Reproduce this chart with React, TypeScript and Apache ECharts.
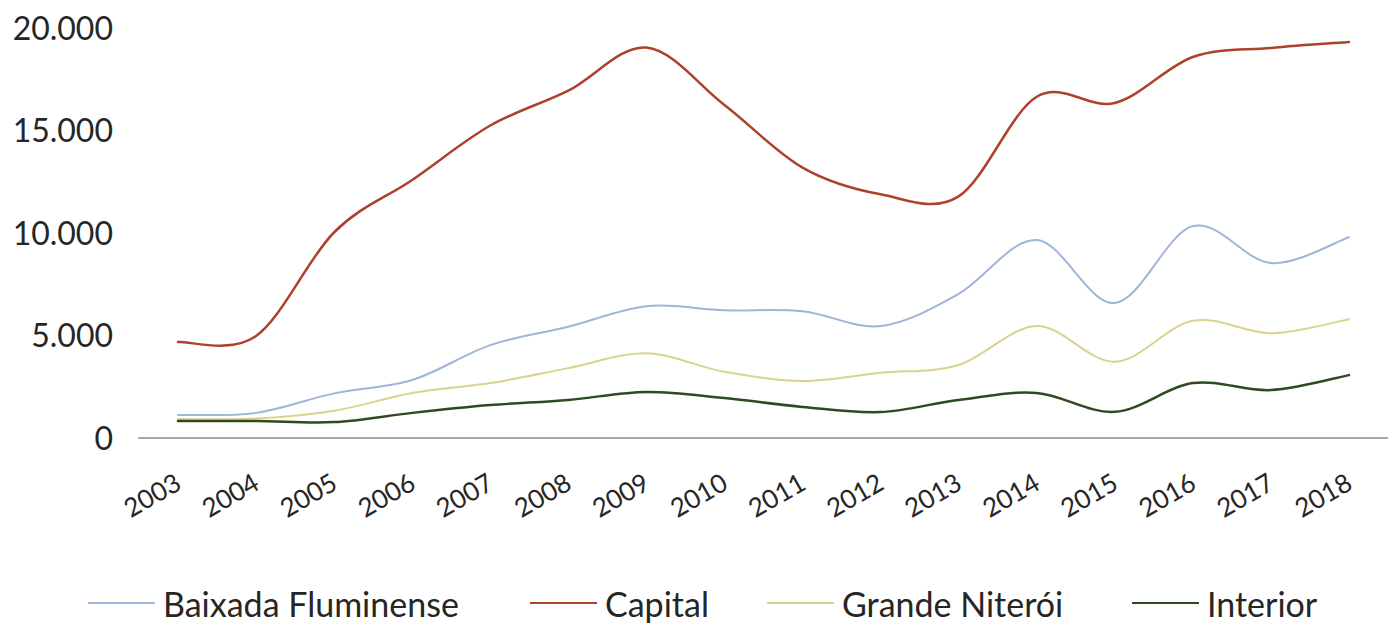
import React, { useEffect, useRef } from 'react';
import * as echarts from 'echarts';

const years = ['2003', '2004', '2005', '2006', '2007', '2008', '2009', '2010', '2011', '2012', '2013', '2014', '2015', '2016', '2017', '2018'];
const baixadaFluminense = [1100, 1200, 2150, 2800, 4500, 5400, 6400, 6200, 6150, 5430, 7000, 9620, 6550, 10300, 8500, 9760];
const capital = [4650, 4950, 10000, 12550, 15200, 16900, 19000, 16200, 13150, 11850, 11750, 16600, 16300, 18540, 18980, 19270];
const grandeNiteroi = [900, 920, 1300, 2170, 2650, 3380, 4100, 3200, 2750, 3150, 3530, 5430, 3690, 5690, 5080, 5760];
const interior = [800, 800, 750, 1200, 1580, 1830, 2220, 1920, 1490, 1240, 1830, 2170, 1250, 2650, 2310, 3040];

const yTicks = [0, 5000, 10000, 15000, 20000];
const yTickLabels = ['0', '5.000', '10.000', '15.000', '20.000'];

const seriesNames = ['Baixada Fluminense', 'Capital', 'Grande Niterói', 'Interior'];
const seriesColors = ['#9fb5d9', '#ad4129', '#dad38c', '#2e4a22'];
const seriesWidths = [2, 2.5, 2, 2.5];
const legendLefts = [88, 530, 767, 1132];

export default function App() {
  const ref = useRef<HTMLDivElement>(null);
  useEffect(() => {
    document.body.style.margin = '0';
    const chart = echarts.init(ref.current!, null, { renderer: 'svg' });
    const dataSets = [baixadaFluminense, capital, grandeNiteroi, interior];

    const makeRender = (values: number[], color: string, width: number) =>
      (params: any, api: any) => {
        if (params.dataIndex !== 0) return null;
        const pts = values.map((v, j) => api.coord([j, v]));
        const n = pts.length;
        const t = 1 / 6;
        let d = `M${pts[0][0]},${pts[0][1]}`;
        for (let k = 0; k < n - 1; k++) {
          const p0 = pts[Math.max(k - 1, 0)];
          const p1 = pts[k];
          const p2 = pts[k + 1];
          const p3 = pts[Math.min(k + 2, n - 1)];
          const c1x = p1[0] + (p2[0] - p0[0]) * t;
          const c1y = p1[1] + (p2[1] - p0[1]) * t;
          const c2x = p2[0] - (p3[0] - p1[0]) * t;
          const c2y = p2[1] - (p3[1] - p1[1]) * t;
          d += ` C${c1x},${c1y} ${c2x},${c2y} ${p2[0]},${p2[1]}`;
        }
        return {
          type: 'path',
          shape: { pathData: d },
          style: { stroke: color, lineWidth: width, fill: 'none', lineJoin: 'round', lineCap: 'round' },
        };
      };

    chart.setOption({
      animation: false,
      textStyle: { fontFamily: 'Lato' },
      grid: { left: 139, top: 27, width: 1254, height: 410.5, containLabel: false },
      legend: seriesNames.map((name, i) => ({
        data: [name],
        left: legendLefts[i],
        top: 586,
        padding: 0,
        icon: 'rect',
        itemWidth: 67,
        itemHeight: 2,
        itemGap: 0,
        selectedMode: false,
        textStyle: { fontFamily: 'Lato', fontSize: 34, color: '#262626', padding: [0, 0, 0, 3] },
      })),
      xAxis: {
        type: 'category',
        data: years,
        boundaryGap: true,
        axisLine: { show: true, lineStyle: { color: '#a6a6a6', width: 2 } },
        axisTick: { show: false },
        axisLabel: {
          rotate: 30,
          margin: 42,
          fontFamily: 'Lato',
          fontSize: 26,
          color: '#262626',
          interval: 0,
        },
      },
      yAxis: {
        type: 'value',
        min: 0,
        max: 20000,
        interval: 5000,
        axisLine: { show: false },
        axisTick: { show: false },
        splitLine: { show: false },
        axisLabel: {
          margin: 26,
          fontFamily: 'Lato',
          fontSize: 32,
          color: '#262626',
          formatter: (v: number) => {
            const i = yTicks.indexOf(v);
            return i >= 0 ? yTickLabels[i] : String(v);
          },
        },
      },
      series: seriesNames.map((name, i) => ({
        name,
        type: 'custom',
        data: dataSets[i].map((v, j) => [j, v]),
        encode: { x: 0, y: 1 },
        renderItem: makeRender(dataSets[i], seriesColors[i], seriesWidths[i]),
        itemStyle: { color: seriesColors[i] },
        clip: false,
      })),
    });
    return () => chart.dispose();
  }, []);
  return <div ref={ref} style={{ width: 1388, height: 623 }} />;
}
